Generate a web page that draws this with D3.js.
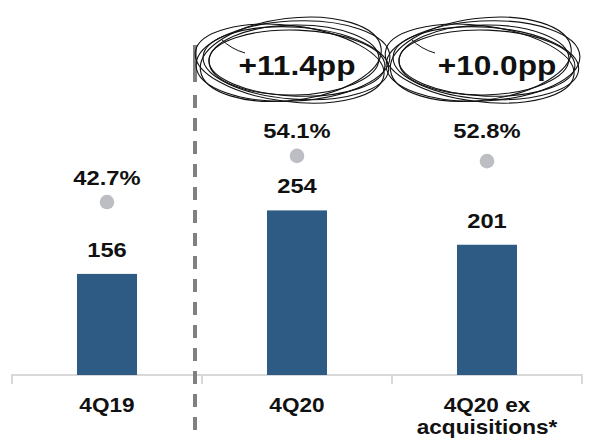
<!DOCTYPE html>
<html lang="en">
<head>
  <meta charset="UTF-8">
  <title>4Q margin chart</title>
  <style>
    body { margin: 0; background: #fff; font-family: Arial, "Liberation Sans", sans-serif; }
    text { font-weight: bold; fill: #111; }
  </style>
</head>
<body>
  <svg id="chart" width="590" height="442"></svg>

  <script src="https://d3js.org/d3.v7.min.js"></script>
  <script>
    // data
    const categories = ["4Q19", "4Q20", "4Q20 ex acquisitions*"];
    const categoryLines = [["4Q19"], ["4Q20"], ["4Q20 ex", "acquisitions*"]];
    const values = [156, 254, 201];
    const margins = [42.7, 54.1, 52.8];
    const changes = [null, "+11.4pp", "+10.0pp"];

    const svg = d3.select("#chart");
    const baseY = 375;
    const stretch = 1.13; // source text is a little wide

    const x = d3.scaleBand().domain(categories).range([12, 582]);
    const y = d3.scaleLinear().domain([0, 300]).range([baseY, baseY - 194.4]);
    const yPct = d3.scaleLinear().domain([0, 60]).range([baseY, baseY - 243]);

    const cx = d => x(d) + x.bandwidth() / 2;

    function label(px, py, size, str) {
      return svg.append("text")
        .attr("transform", `translate(${px},${py}) scale(${stretch},1)`)
        .attr("text-anchor", "middle")
        .attr("font-size", size)
        .text(str);
    }

    // axis line with tick marks at band edges
    const axis = d3.axisBottom(x).tickSize(0).tickFormat("");
    const ax = svg.append("g").attr("transform", `translate(0,${baseY})`).call(axis);
    ax.select(".domain").attr("stroke", "#d9d9d9").attr("stroke-width", 2).attr("d", "M12,9V0H582V9");
    ax.selectAll(".tick").remove();
    const edges = categories.slice(1).map(c => x(c));
    ax.selectAll(".edge").data(edges).enter().append("line")
      .attr("x1", d => d).attr("x2", d => d)
      .attr("y1", 0).attr("y2", 9)
      .attr("stroke", "#d9d9d9").attr("stroke-width", 2);

    // bars
    svg.selectAll(".bar").data(values).enter().append("rect")
      .attr("x", (d, i) => cx(categories[i]) - 30)
      .attr("width", 60)
      .attr("y", d => y(d))
      .attr("height", d => baseY - y(d))
      .attr("fill", "#2d5b84");

    values.forEach((v, i) => label(cx(categories[i]), y(v) - 17, 21, v));

    // margin dots
    svg.selectAll(".dot").data(margins).enter().append("circle")
      .attr("cx", (d, i) => cx(categories[i]))
      .attr("cy", d => yPct(d))
      .attr("r", 7.3)
      .attr("fill", "#bdbec4");

    const topAfter = d3.min(margins.slice(1), d => yPct(d)) - 18;
    margins.forEach((m, i) => {
      label(cx(categories[i]), i === 0 ? yPct(m) - 17 : topAfter, 21, m.toFixed(1) + "%");
    });

    // category labels
    categoryLines.forEach((lines, i) => {
      lines.forEach((l, j) => label(cx(categories[i]), 412 + j * 22, 20, l));
    });

    // dashed divider
    svg.append("line")
      .attr("x1", 195).attr("x2", 195).attr("y1", 45).attr("y2", 82)
      .attr("stroke", "#808080").attr("stroke-width", 4);
    svg.append("line")
      .attr("x1", 195).attr("x2", 195).attr("y1", 95).attr("y2", 430)
      .attr("stroke", "#808080").attr("stroke-width", 4)
      .attr("stroke-dasharray", "13,10");

    // scribbled ellipses round the change labels
    const loops = [
      { dx: 0, dy: 0, rx: 97, ry: 40, rot: -3 },
      { dx: 3, dy: 2, rx: 93, ry: 36, rot: 4 },
      { dx: -2, dy: -2, rx: 91, ry: 41, rot: -7 },
      { dx: 4, dy: 2, rx: 88, ry: 33, rot: 2 },
      { dx: -3, dy: 3, rx: 95, ry: 38, rot: 7 },
      { dx: 1, dy: -1, rx: 85, ry: 35, rot: -1 }
    ];
    changes.forEach((c, i) => {
      if (!c) return;
      const px = cx(categories[i]) - 4, py = 61;
      const g = svg.append("g").attr("transform", `translate(${px},${py})`);
      g.selectAll("ellipse").data(loops).enter().append("ellipse")
        .attr("cx", d => d.dx).attr("cy", d => d.dy)
        .attr("rx", d => d.rx).attr("ry", d => d.ry)
        .attr("transform", d => `rotate(${d.rot})`)
        .attr("fill", "none").attr("stroke", "#111").attr("stroke-width", 1.1);
      g.append("path")
        .attr("d", "M-72,-22 Q-62,-12 -48,-8")
        .attr("fill", "none").attr("stroke", "#111").attr("stroke-width", 1);
      label(cx(categories[i]) + (i === 2 ? 10 : 0), 75, 28, c);
    });
  </script>
</body>
</html>
